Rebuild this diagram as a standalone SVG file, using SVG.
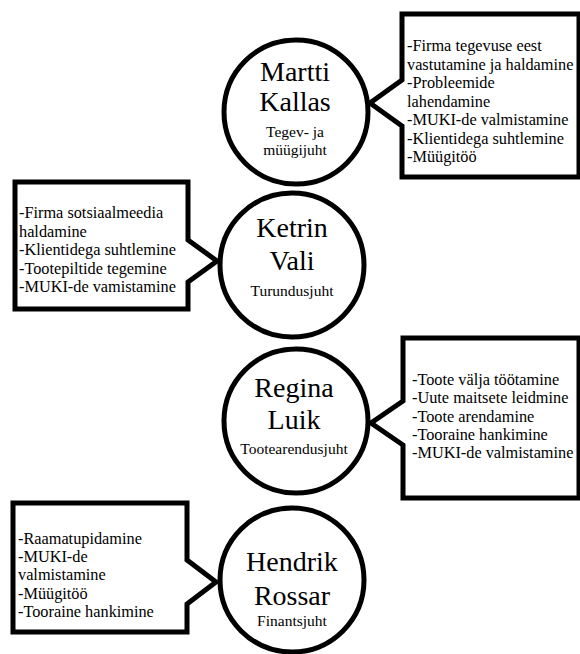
<svg xmlns="http://www.w3.org/2000/svg" width="580" height="654" viewBox="0 0 580 654">
<style>
.circ{fill:#fff;stroke:#000;stroke-width:5}
.call{fill:#fff;stroke:#000;stroke-width:5;stroke-linejoin:miter}
text{font-family:'Liberation Serif','DejaVu Serif',serif;fill:#000}
.name{font-size:28px;text-anchor:middle}
.role{font-size:15.5px;text-anchor:middle}
.item{font-size:16.3px}
</style>
<rect width="580" height="654" fill="#fff"/>
<g id="connectors"></g>
<g id="martti">
<path class="call" d="M402,14 H579 V177 H402 V126 L370,103 L402,80 Z"/>
<circle class="circ" cx="296" cy="112" r="72"/>
<text class="name" x="295" y="81">Martti</text>
<text class="name" x="295" y="111">Kallas</text>
<text class="role" x="295" y="137">Tegev- ja</text>
<text class="role" x="295" y="155">müügijuht</text>
<text class="item"><tspan x="407" y="51">-Firma tegevuse eest</tspan><tspan x="407" y="69.5">vastutamine ja haldamine</tspan><tspan x="407" y="88">-Probleemide</tspan><tspan x="407" y="106.5">lahendamine</tspan><tspan x="407" y="125">-MUKI-de valmistamine</tspan><tspan x="407" y="143.5">-Klientidega suhtlemine</tspan><tspan x="407" y="162">-Müügitöö</tspan></text>
</g>
<g id="ketrin">
<path class="call" d="M15,182 H188 V240 L217,261 L188,282 V309 H15 Z"/>
<circle class="circ" cx="292" cy="265" r="72"/>
<text class="name" x="292" y="237">Ketrin</text>
<text class="name" x="292" y="270">Vali</text>
<text class="role" x="292" y="296">Turundusjuht</text>
<text class="item"><tspan x="19" y="218">-Firma sotsiaalmeedia</tspan><tspan x="19" y="236.5">haldamine</tspan><tspan x="19" y="255">-Klientidega suhtlemine</tspan><tspan x="19" y="273.5">-Tootepiltide tegemine</tspan><tspan x="19" y="292">-MUKI-de vamistamine</tspan></text>
</g>
<g id="regina">
<path class="call" d="M403,338 H579 V498 H403 V445 L371,423 L403,401 Z"/>
<circle class="circ" cx="296" cy="421" r="72"/>
<text class="name" x="294" y="397">Regina</text>
<text class="name" x="294" y="429">Luik</text>
<text class="role" x="294" y="454">Tootearendusjuht</text>
<text class="item"><tspan x="412" y="385">-Toote välja töötamine</tspan><tspan x="412" y="403.3">-Uute maitsete leidmine</tspan><tspan x="412" y="421.6">-Toote arendamine</tspan><tspan x="412" y="440">-Tooraine hankimine</tspan><tspan x="412" y="458.3">-MUKI-de valmistamine</tspan></text>
</g>
<g id="hendrik">
<path class="call" d="M13,503 H187 V560 L216,582 L187,604 V632 H13 Z"/>
<circle class="circ" cx="292" cy="580" r="72"/>
<text class="name" x="292" y="571">Hendrik</text>
<text class="name" x="292" y="605">Rossar</text>
<text class="role" x="292" y="626">Finantsjuht</text>
<text class="item"><tspan x="18" y="544">-Raamatupidamine</tspan><tspan x="18" y="562.2">-MUKI-de</tspan><tspan x="18" y="580.4">valmistamine</tspan><tspan x="18" y="598.6">-Müügitöö</tspan><tspan x="18" y="616.8">-Tooraine hankimine</tspan></text>
</g>
</svg>
